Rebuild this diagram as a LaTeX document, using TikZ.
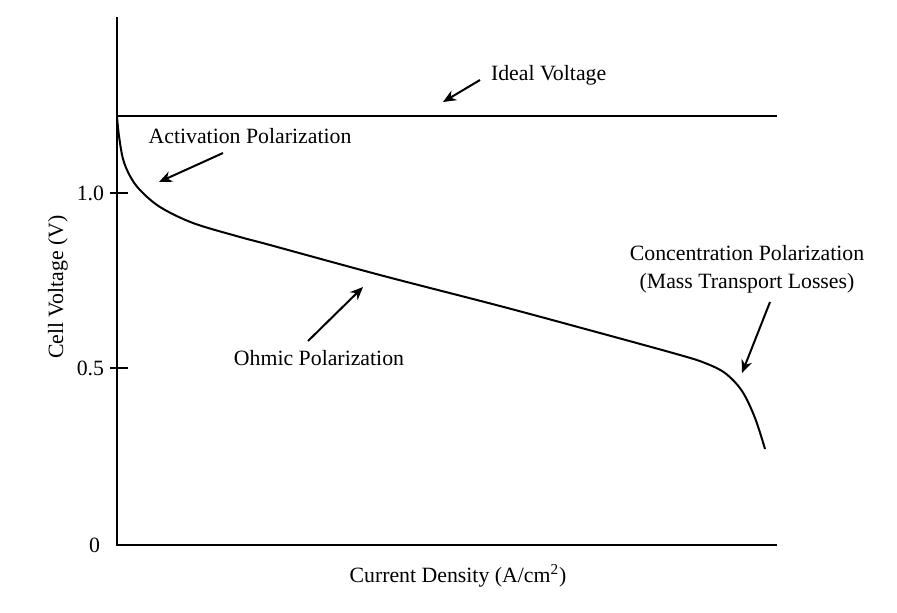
\documentclass[tikz,border=0pt]{standalone}
\usepackage{fontspec}
\setmainfont{Liberation Serif}
\usetikzlibrary{arrows.meta}

\begin{document}
\begin{tikzpicture}[
            > = {Stealth[length=6.5pt, width=5.5pt]}, % arrow head style
            x = 0.5pt, y = -0.5pt, % one unit per pixel of the sketch
            line width = 1pt,
            font = \fontsize{10.9}{14}\selectfont
        ]

        \tikzstyle{txt}=[inner sep = 1pt]
        \tikzstyle{pointer}=[->, line width = 1pt]

        \useasboundingbox (0,0) rectangle (897,612);

	% axes
        \coordinate (top) at (117,17);
        \coordinate (O) at (117,545);
        \coordinate (right) at (777,545);
        \draw (top) -- (O) -- (right);

        \foreach \v/\y/\n in {1.0/193/a, 0.5/368/b} {
            \draw (110,\y) -- (128,\y);
            \node[txt, anchor=east] (tick\n) at (107,\y) {\v};
        }
        \node[txt, anchor=east] (zero) at (103,545) {0};

        \node[txt, rotate=90] (ylab) at (58,287) {Cell Voltage (V)};
        \node[txt] (xlab) at (458,576) {Current Density (A/cm\textsuperscript{2})};

	% ideal voltage and cell curve
        \coordinate (ideal0) at (117,116);
        \coordinate (ideal1) at (777,116);
        \draw (ideal0) -- (ideal1);

        \draw plot[smooth, tension=0.55] coordinates {
            (117,117) (119,136) (123,159) (130,176) (140,190) (160,207)
            (193,223) (240,237) (270,245) (380,275) (500,306) (600,333)
            (680,355) (705,363) (725,373) (742,391) (755,418) (765,449)};

         % labels
         \node[txt, anchor=west] (ideal) at (488,75) {Ideal Voltage};
         \node[txt] (act) at (250,136) {Activation Polarization};
         \node[txt] (ohm) at (319,358) {Ohmic Polarization};
         \node[txt, align=center] (conc) at (747,269)
             {Concentration Polarization\\(Mass Transport Losses)};

         \coordinate (idealTail) at (480,80);
         \coordinate (idealTip) at (443,102);
         \coordinate (actTail) at (223,153);
         \coordinate (actTip) at (159,182);
         \coordinate (ohmTail) at (308,341);
         \coordinate (ohmTip) at (363,287);
         \coordinate (concTail) at (770,302);
         \coordinate (concTip) at (742,373);

         \draw[pointer] (idealTail) -- (idealTip);
         \draw[pointer] (actTail) -- (actTip);
         \draw[pointer] (ohmTail) -- (ohmTip);
         \draw[pointer] (concTail) -- (concTip);

  \end{tikzpicture}
\end{document}
